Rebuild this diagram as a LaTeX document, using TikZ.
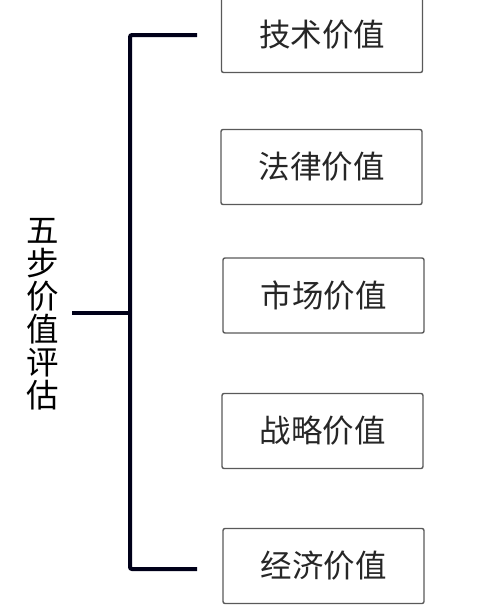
\documentclass[tikz,border=0pt]{standalone}
\usepackage{fontspec}
\setmainfont{Noto Sans CJK SC}
\usetikzlibrary{positioning}

\begin{document}
\begin{tikzpicture}[x=1pt, y=-1pt,
    valuebox/.style={draw=black!65, line width=1.4pt, rectangle, rounded corners=2pt, minimum width=201pt, minimum height=75pt, align=center, font=\fontsize{31.5}{33}\selectfont, text=black!85},
    bracket/.style={line width=4pt, color=black!90!blue}]
    \useasboundingbox (0,0) rectangle (494,605);
    % Root label (vertical)
    \node[align=center, font=\fontsize{32.5}{33}\selectfont, inner sep=0pt] (root) at (42.5, 314) {五\\步\\价\\值\\评\\估};
    % Value boxes
    \node[valuebox] (tech) at (322, 35) {技术价值};
    \node[valuebox] (law) at (321.5, 167) {法律价值};
    \node[valuebox] (market) at (323.5, 295.5) {市场价值};
    \node[valuebox] (strategy) at (322.5, 431) {战略价值};
    \node[valuebox] (econ) at (323.5, 566) {经济价值};
    % Bracket
    \coordinate (stem) at (72, 313);
    \coordinate (spinemid) at (130, 313);
    \coordinate (spinetop) at (130, 35);
    \coordinate (spinebot) at (130, 569);
    \coordinate (armtop) at (197, 35);
    \coordinate (armbot) at (197, 569);
    \draw[bracket, rounded corners=2pt] (armtop) -- (spinetop) -- (spinebot) -- (armbot);
    \draw[bracket] (stem) -- (spinemid);
\end{tikzpicture}
\end{document}
